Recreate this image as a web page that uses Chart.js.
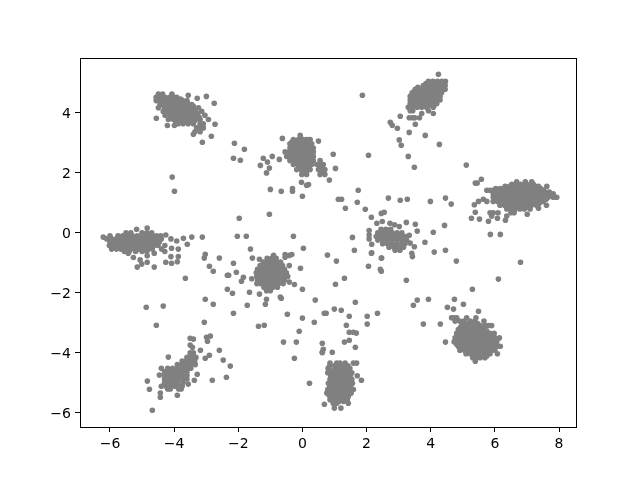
<!DOCTYPE html>
<html>
<head>
<meta charset="utf-8">
<style>
  html, body { margin: 0; padding: 0; background: #fff; }
  canvas { display: block; }
</style>
<script src="https://cdn.jsdelivr.net/npm/chart.js@4"></script>
</head>
<body>
<canvas id="chart" width="640" height="480"></canvas>
<script>
// tick labels
const xTicks = [-6, -4, -2, 0, 2, 4, 6, 8];
const yTicks = [-6, -4, -2, 0, 2, 4];

const clusterTopLeft = [
  [4.63, [-4.49, -4.36, -4.07]],
  [4.52, [-4.56, -4.42, -4.28, -4.14, -4.0, -3.92]],
  [4.46, [-4.49, -4.35, -4.21, -4.07, -3.93, -3.8]],
  [4.41, [-4.56, -4.44, -4.3, -4.16, -4.02, -3.88, -3.74, -3.6]],
  [4.34, [-4.4, -4.29, -4.15, -4.01, -3.87, -3.73, -3.59]],
  [4.28, [-4.44, -4.36, -4.22, -4.08, -3.94, -3.8, -3.66, -3.45]],
  [4.22, [-4.32, -4.21, -4.07, -3.93, -3.79, -3.65, -3.51, -3.4]],
  [4.17, [-4.49, -4.28, -4.14, -4.0, -3.86, -3.72, -3.58, -3.44, -3.24]],
  [4.11, [-4.21, -4.07, -3.93, -3.79, -3.65, -3.51, -3.37]],
  [4.05, [-4.34, -4.18, -4.04, -3.9, -3.76, -3.62, -3.48, -3.34, -3.14]],
  [3.98, [-4.11, -3.97, -3.83, -3.69, -3.55, -3.41, -3.27]],
  [3.92, [-4.28, -4.12, -3.98, -3.84, -3.7, -3.56, -3.42, -3.28, -3.04]],
  [3.85, [-4.05, -3.91, -3.77, -3.63, -3.49, -3.35, -3.22]],
  [3.78, [-4.18, -4.02, -3.88, -3.74, -3.6, -3.46, -3.32, -3.19, -2.93]],
  [3.71, [-3.95, -3.8, -3.65, -3.5, -3.38]],
  [3.64, [-3.87, -3.72, -3.56, -3.4, -3.19, -3.09]],
  [3.5, [-3.3, -3.2, -3.09]],
  [3.37, [-3.35, -3.19]]
];
const clusterTopMid = [
  [3.25, [-0.07]],
  [3.11, [-0.28, -0.12, 0.02, 0.14, 0.24]],
  [3.04, [-0.32, -0.18, -0.04, 0.1, 0.22]],
  [2.97, [-0.39, -0.25, -0.11, 0.03, 0.17, 0.29]],
  [2.9, [-0.32, -0.18, -0.04, 0.1, 0.24]],
  [2.83, [-0.39, -0.25, -0.11, 0.03, 0.17, 0.34]],
  [2.76, [-0.33, -0.19, -0.05, 0.09, 0.25]],
  [2.7, [-0.54, -0.4, -0.26, -0.12, 0.02, 0.16, 0.34]],
  [2.62, [-0.42, -0.28, -0.14, 0, 0.14, 0.28]],
  [2.55, [-0.49, -0.35, -0.21, -0.07, 0.07, 0.21, 0.34]],
  [2.48, [-0.32, -0.18, -0.04, 0.1, 0.26]],
  [2.41, [-0.39, -0.25, -0.11, 0.03, 0.17, 0.34, 0.55]],
  [2.34, [-0.21, -0.07, 0.07, 0.22]],
  [2.28, [-0.28, -0.14, 0, 0.14, 0.29, 0.45, 0.57, 0.65]],
  [2.2, [-0.11, 0.03, 0.17, 0.55]],
  [2.11, [-0.18, -0.04, 0.1, 0.24, 0.5, 0.6, 0.7]],
  [2.03, [0.03, 0.12, 0.62]],
  [1.95, [-0.02, 0.13, 0.55, 0.7]]
];
const clusterTopRight = [
  [5.05, [3.93, 4.07, 4.21, 4.35, 4.46]],
  [4.98, [3.85, 4.0, 4.14, 4.28, 4.4]],
  [4.91, [3.77, 3.91, 4.05, 4.19, 4.33, 4.45]],
  [4.85, [3.6, 3.77, 3.91, 4.05, 4.19, 4.33, 4.42]],
  [4.79, [3.52, 3.7, 3.84, 3.98, 4.12, 4.26, 4.38, 4.45]],
  [4.73, [3.49, 3.63, 3.77, 3.91, 4.05, 4.19, 4.33]],
  [4.67, [3.42, 3.56, 3.7, 3.84, 3.98, 4.12, 4.26, 4.34]],
  [4.61, [3.43, 3.57, 3.71, 3.85, 3.99, 4.13, 4.27]],
  [4.55, [3.36, 3.5, 3.64, 3.78, 3.92, 4.06, 4.2, 4.29]],
  [4.49, [3.43, 3.57, 3.71, 3.85, 3.99, 4.13, 4.25]],
  [4.43, [3.36, 3.5, 3.64, 3.78, 3.92, 4.06, 4.2, 4.29]],
  [4.37, [3.43, 3.57, 3.71, 3.85, 3.99, 4.13]],
  [4.31, [3.36, 3.5, 3.64, 3.78, 3.92, 4.06, 4.19]],
  [4.25, [3.37, 3.51, 3.65, 3.79, 3.94, 4.1]],
  [4.19, [3.3, 3.44, 3.58, 3.72, 3.87, 4.08]],
  [4.07, [3.36, 3.44, 3.93]],
  [3.98, [3.72, 4.08]],
  [3.84, [3.33, 3.43, 3.5, 3.65]]
];
const clusterRight = [
  [1.7, [6.68, 6.95, 7.15]],
  [1.62, [6.53, 6.67, 6.81, 7.0, 7.2]],
  [1.55, [6.32, 6.46, 6.6, 6.74, 6.84, 6.99, 7.13, 7.27, 7.36, 7.62]],
  [1.48, [6.03, 6.17, 6.31, 6.45, 6.59, 6.73, 6.87, 7.01, 7.15, 7.29, 7.43]],
  [1.42, [5.75, 5.85, 5.95, 6.1, 6.24, 6.38, 6.52, 6.66, 6.8, 6.94, 7.08, 7.22, 7.36, 7.51]],
  [1.36, [6.02, 6.16, 6.3, 6.44, 6.58, 6.72, 6.86, 7.0, 7.14, 7.28, 7.42, 7.56, 7.7]],
  [1.3, [5.95, 6.09, 6.23, 6.37, 6.51, 6.65, 6.79, 6.93, 7.07, 7.21, 7.35, 7.49, 7.63, 7.82]],
  [1.24, [6.02, 6.16, 6.3, 6.44, 6.58, 6.72, 6.86, 7.0, 7.14, 7.28, 7.42, 7.56, 7.72]],
  [1.19, [5.95, 6.1, 6.24, 6.38, 6.52, 6.66, 6.8, 6.94, 7.08, 7.22, 7.36, 7.5, 7.66, 7.82, 7.93]],
  [1.12, [6.03, 6.17, 6.31, 6.45, 6.59, 6.73, 6.87, 7.01, 7.15, 7.29, 7.43, 7.6]],
  [1.05, [5.95, 6.09, 6.23, 6.37, 6.51, 6.65, 6.79, 6.93, 7.07, 7.21, 7.35, 7.51]],
  [0.98, [6.23, 6.37, 6.51, 6.65, 6.79, 6.93, 7.07, 7.21, 7.38]],
  [0.92, [6.16, 6.3, 6.44, 6.58, 6.72, 6.86, 7.0, 7.14, 7.3]],
  [0.86, [6.43, 6.57, 6.71, 6.85, 6.99]],
  [0.8, [6.37, 6.5, 6.64, 6.78, 6.92, 7.1]],
  [0.67, [5.85, 5.95, 6.1, 6.5, 6.6]],
  [0.56, [5.9, 6.37]]
];
const clusterMidRight = [
  [0.12, [2.45, 2.6, 2.75]],
  [0.0, [2.35, 2.5, 2.65, 2.8, 2.95, 3.1]],
  [-0.12, [2.3, 2.45, 2.6, 2.75, 2.9, 3.05, 3.2]],
  [-0.24, [2.35, 2.5, 2.65, 2.8, 2.95, 3.1, 3.25]],
  [-0.36, [2.5, 2.65, 2.8, 2.95, 3.1, 3.2]],
  [-0.48, [2.7, 2.85, 3.0, 3.15]],
  [-0.58, [2.89, 3.04]]
];
const clusterLeft = [
  [0.0, [-5.5, -5.35, -5.0, -4.85, -4.7]],
  [-0.1, [-6.0, -5.75, -5.6, -5.45, -5.3, -5.15, -5.0, -4.85, -4.7, -4.55, -4.42]],
  [-0.2, [-6.1, -5.95, -5.8, -5.66, -5.52, -5.38, -5.24, -5.1, -4.96, -4.82, -4.68, -4.54, -4.4]],
  [-0.3, [-6.0, -5.85, -5.72, -5.58, -5.44, -5.3, -5.16, -5.02, -4.88, -4.74, -4.6, -4.46]],
  [-0.42, [-6.02, -5.88, -5.74, -5.6, -5.46, -5.32, -5.18, -5.04, -4.9, -4.76, -4.62, -4.5, -4.29]],
  [-0.54, [-5.95, -5.8, -5.66, -5.52, -5.38, -5.24, -5.1, -4.96, -4.82, -4.68, -4.39, -3.87]],
  [-0.62, [-5.55, -5.4, -5.2, -5.0, -4.85, -4.29]]
];
const clusterCenter = [
  [-0.75, [-0.9]],
  [-0.85, [-1.1, -0.96, -0.82]],
  [-0.97, [-1.22, -1.08, -0.94, -0.8, -0.68]],
  [-1.09, [-1.32, -1.18, -1.04, -0.9, -0.76, -0.62, -0.41]],
  [-1.21, [-1.4, -1.26, -1.12, -0.98, -0.84, -0.7, -0.56]],
  [-1.33, [-1.44, -1.3, -1.16, -1.02, -0.88, -0.74, -0.6, -0.5]],
  [-1.45, [-1.42, -1.28, -1.14, -1.0, -0.86, -0.72, -0.58, -0.46]],
  [-1.57, [-1.4, -1.26, -1.12, -0.98, -0.84, -0.7, -0.56]],
  [-1.69, [-1.42, -1.3, -1.16, -1.02, -0.88, -0.74, -0.6]],
  [-1.81, [-1.2, -1.06, -0.92, -0.78]],
  [-1.93, [-1.12, -1.0]]
];
const clusterLowerLeft = [
  [-4.0, [-3.5, -3.4]],
  [-4.15, [-3.6, -3.5, -3.4, -3.32]],
  [-4.27, [-3.75, -3.62, -3.48, -3.36]],
  [-4.39, [-3.9, -3.76, -3.62, -3.48, -3.34]],
  [-4.51, [-4.2, -4.05, -3.9, -3.76, -3.62, -3.48]],
  [-4.63, [-4.3, -4.15, -4.02, -3.88, -3.74, -3.6]],
  [-4.75, [-4.3, -4.16, -4.02, -3.88, -3.74, -3.6]],
  [-4.87, [-4.3, -4.16, -4.02, -3.88, -3.74, -3.6]],
  [-4.99, [-4.3, -4.16, -4.02, -3.88, -3.72]],
  [-5.11, [-4.4, -4.25, -4.1, -3.98, -3.85, -3.75]],
  [-5.2, [-4.2, -4.12, -3.86, -3.78]]
];
const clusterBottom = [
  [-4.34, [0.86, 1.07, 1.17, 1.33, 1.59, 1.69]],
  [-4.43, [0.85, 1.0, 1.14, 1.28, 1.42]],
  [-4.51, [0.8, 1.07, 1.2, 1.34, 1.48]],
  [-4.58, [0.86, 1.0, 1.14, 1.28, 1.42]],
  [-4.66, [0.79, 0.93, 1.07, 1.21, 1.35, 1.54]],
  [-4.71, [0.95, 1.09, 1.23, 1.37, 1.5]],
  [-4.76, [0.88, 1.02, 1.16, 1.3, 1.44, 1.71]],
  [-4.82, [0.93, 1.07, 1.21, 1.35, 1.49]],
  [-4.88, [0.86, 1.0, 1.14, 1.28, 1.42, 1.54]],
  [-4.95, [0.93, 1.07, 1.21, 1.35, 1.49]],
  [-5.01, [0.81, 0.95, 1.09, 1.23, 1.37, 1.56]],
  [-5.07, [0.9, 1.04, 1.18, 1.32, 1.46]],
  [-5.12, [0.85, 0.98, 1.12, 1.26, 1.4, 1.5]],
  [-5.17, [0.9, 1.04, 1.18, 1.32, 1.46]],
  [-5.22, [0.79, 0.93, 1.07, 1.21, 1.35, 1.47, 1.59]],
  [-5.28, [0.85, 1.0, 1.14, 1.28, 1.42]],
  [-5.34, [0.76, 0.9, 1.04, 1.18, 1.32, 1.52]],
  [-5.4, [0.83, 0.97, 1.11, 1.25, 1.39]],
  [-5.45, [0.86, 1.0, 1.14, 1.28, 1.43]],
  [-5.5, [0.93, 1.07, 1.21, 1.35]],
  [-5.56, [0.86, 1.0, 1.14, 1.28, 1.4]],
  [-5.62, [1.0, 1.14, 1.28]],
  [-5.68, [0.96, 1.07, 1.43]],
  [-5.84, [0.995, 1.2]]
];
const clusterLowerRight = [
  [-2.83, [4.65, 4.72, 4.81, 5.12, 5.41]],
  [-2.94, [4.76, 4.9, 5.04, 5.23, 5.38, 5.66]],
  [-3.02, [5.04, 5.18, 5.32, 5.46]],
  [-3.09, [4.97, 5.11, 5.25, 5.39, 5.54, 5.69, 5.8, 5.9]],
  [-3.15, [4.93, 5.07, 5.21, 5.35, 5.49, 5.63]],
  [-3.22, [4.86, 5.0, 5.14, 5.28, 5.42, 5.56, 5.69]],
  [-3.28, [4.93, 5.07, 5.21, 5.35, 5.49, 5.63, 5.75]],
  [-3.35, [4.81, 4.95, 5.09, 5.23, 5.37, 5.51, 5.65, 5.85, 5.98]],
  [-3.42, [4.88, 5.02, 5.16, 5.3, 5.44, 5.58, 5.72, 5.86]],
  [-3.5, [4.76, 4.9, 5.04, 5.18, 5.32, 5.46, 5.6, 5.74, 5.88, 6.0, 6.14]],
  [-3.56, [4.83, 4.97, 5.11, 5.25, 5.39, 5.53, 5.67, 5.81, 5.95]],
  [-3.63, [4.73, 4.87, 5.01, 5.15, 5.29, 5.43, 5.57, 5.71, 5.85, 6.06]],
  [-3.7, [4.8, 4.94, 5.08, 5.22, 5.36, 5.5, 5.64, 5.78, 5.92, 6.0]],
  [-3.78, [4.86, 5.0, 5.14, 5.28, 5.42, 5.56, 5.7, 5.84, 5.96, 6.06, 6.17]],
  [-3.84, [4.93, 5.07, 5.21, 5.35, 5.49, 5.63, 5.77, 5.91]],
  [-3.91, [4.91, 5.05, 5.19, 5.33, 5.47, 5.61, 5.75, 5.89, 6.0]],
  [-3.97, [5.12, 5.26, 5.4, 5.54, 5.68, 5.82]],
  [-4.03, [5.1, 5.23, 5.33, 5.47, 5.61, 5.75, 5.85, 6.08]],
  [-4.1, [5.4, 5.5, 5.62, 5.75]],
  [-4.16, [5.31, 5.43, 5.54, 5.69]],
  [-4.28, [5.39]]
];
const clusters = [clusterTopLeft, clusterTopMid, clusterTopRight, clusterRight, clusterMidRight,
  clusterLeft, clusterCenter, clusterLowerLeft, clusterBottom, clusterLowerRight];

// loose points between the clusters, [x, y]
const scatteredUpper = [
  [-4.555, 3.82], [-4.21, 3.58], [-3.99, 3.58], [-3.56, 4.59], [-3.28, 4.49], [-2.995, 4.55],
  [-2.75, 4.32], [-2.725, 3.62], [-2.84, 3.22], [-3.12, 3.02], [-3.4, 3.29], [-2.12, 2.99],
  [-1.81, 2.79], [-2.15, 2.49], [-1.935, 2.42], [-4.06, 1.86], [-3.99, 1.39], [-0.625, 3.15],
  [0.5, 3.06], [-0.94, 2.55], [-1.22, 2.49], [-1.09, 2.36], [-1.31, 2.25], [-1.03, 2.16],
  [-1.12, 2.0], [-0.72, 2.45], [-1.0, 1.45], [-0.66, 1.39], [-0.31, 1.48], [-0.31, 1.39],
  [-0.03, 1.69], [0.13, 1.59], [0.19, 1.61], [0.0, 1.22], [-1.03, 0.62], [-1.97, 0.49],
  [-2.03, -0.11], [-1.75, -0.11], [-0.28, -0.11], [0.84, 1.76], [4.24, 5.29], [1.87, 4.59],
  [3.05, 3.89], [2.74, 3.69], [2.8, 3.59], [2.96, 3.49], [3.33, 3.35], [3.52, 3.62],
  [3.83, 3.25], [3.02, 3.1], [3.08, 2.92], [4.27, 2.95], [3.3, 2.55], [3.49, 2.19],
  [2.06, 2.59], [0.96, 2.62], [1.03, 2.15], [5.11, 2.26], [5.58, 1.79], [5.39, 1.66],
  [5.45, 1.66], [1.74, 1.42], [1.12, 1.12], [1.22, 1.12], [1.71, 1.02], [1.34, 0.82],
  [1.96, 0.79], [2.15, 0.52], [2.46, 0.65], [2.55, 0.69], [2.68, 1.16], [3.05, 1.09],
  [3.27, 1.12], [3.99, 1.05], [4.46, 1.16], [4.64, 0.96], [4.43, 0.25], [4.08, 0.02],
  [3.24, 0.35], [3.52, 0.29], [3.58, 0.06], [3.33, -0.08], [1.56, -0.15], [5.86, -0.05],
  [6.17, -0.05], [5.27, 0.49], [5.52, 0.46], [5.39, 0.69], [5.36, 0.94], [5.49, 1.05],
  [5.64, 1.12], [5.75, 1.05], [7.61, 0.92], [7.36, 0.82], [7.01, 0.62],
  [6.33, 0.42], [6.08, 0.49], [5.8, 0.39], [2.32, 0.32], [2.49, 0.38], [2.73, 0.32],
  [2.87, 0.27], [3.02, 0.21], [2.08, 0.08], [2.08, -0.07], [2.08, -0.2], [2.16, -0.38],
  [-6.21, -0.14], [-5.17, 0.12], [-4.84, 0.16], [-4.26, -0.07], [-4.1, -0.2], [-3.92, -0.27],
  [-3.71, -0.18], [-3.45, -0.14], [-3.12, -0.14], [-3.59, -0.38]
];
const scatteredLower = [
  [3.82, -0.31], [3.36, -0.34], [3.49, -0.46], [3.41, -0.68], [3.43, -0.79], [2.16, -0.66],
  [2.47, -0.84], [-5.43, -0.68], [-5.27, -0.82], [-5.06, -0.9], [-5.01, -1.04], [-5.15, -1.14],
  [-4.84, -0.76], [-4.84, -0.98], [-4.62, -0.68], [-4.62, -1.14], [-4.26, -0.98], [-4.1, -0.79],
  [-4.08, -1.01], [-3.87, -0.79], [-3.9, -0.96], [-4.08, -0.51], [-1.62, -0.54], [0.03, -0.51],
  [0.78, -0.74], [-3.03, -0.71], [-3.06, -0.84], [-2.59, -0.84], [-2.15, -1.01], [-1.56, -0.84],
  [-1.34, -0.88], [-2.9, -1.11], [-2.78, -1.28], [-2.06, -1.31], [-2.34, -1.41], [-2.3, -1.41],
  [-1.84, -1.48], [-1.9, -1.61], [-3.65, -1.51], [-2.34, -1.88], [-2.18, -2.01], [-1.65, -1.98],
  [-1.34, -2.04], [-1.12, -2.21], [-1.155, -2.38], [-0.69, -2.14], [-0.66, -2.18], [0.0, -1.88],
  [-0.06, -1.18], [0.4, -2.24], [-0.47, -2.71], [0.0, -2.84], [0.37, -2.98], [0.68, -2.68],
  [0.74, -2.68], [-0.1, -3.28], [-0.59, -3.64], [-0.19, -3.64], [0.62, -3.68], [0.65, -3.88],
  [0.62, -3.98], [-0.25, -4.18], [0.22, -5.01], [-3.03, -2.21], [-2.78, -2.38], [-1.72, -2.41],
  [-2.15, -2.68], [-4.87, -2.48], [-4.34, -2.44], [-4.555, -3.08], [-3.06, -2.98], [-1.37, -3.11],
  [-1.19, -3.08], [-2.99, -3.48], [-2.87, -3.44], [-2.96, -3.61], [-3.5, -3.51], [-3.4, -3.54],
  [-3.5, -3.74], [-3.43, -3.81], [-3.18, -3.91], [-2.59, -3.91], [-3.03, -4.18], [-2.9, -4.08],
  [-2.47, -4.24], [-2.25, -4.44], [-2.37, -4.81], [-2.81, -4.91], [-4.18, -4.14], [-4.4, -4.51],
  [-4.46, -4.74], [-4.835, -4.94], [-4.77, -5.21], [-4.43, -5.34], [-4.43, -5.48], [-3.9, -5.41],
  [-4.68, -5.91], [-3.28, -4.71], [-3.37, -4.91], [-3.56, -5.04], [0.685, -5.71], [-0.54, -0.72],
  [-0.33, -0.72], [-0.54, -0.81], [-0.41, -0.75], [-0.41, -1.64], [-0.25, -1.72], [-1.58, -1.53],
  [1.62, -0.58], [2.15, -0.68], [1.06, -0.94], [2.46, -0.84], [2.06, -1.11], [2.43, -1.21],
  [2.46, -1.28], [1.31, -1.51], [1.03, -1.71], [3.24, -1.58], [4.11, -0.64], [4.46, -0.58],
  [4.8, -0.94], [6.8, -0.98], [6.11, -1.54], [5.3, -1.88], [4.74, -2.21], [5.02, -2.38],
  [4.52, -2.48], [4.71, -2.54], [3.93, -2.21], [3.58, -2.24], [3.46, -2.41], [5.49, -2.61],
  [1.65, -2.31], [0.995, -2.54], [1.21, -2.58], [1.46, -2.78], [2.34, -2.68], [2.02, -2.78],
  [2.02, -3.04], [1.37, -3.08], [1.46, -3.31], [1.59, -3.31], [1.68, -3.34], [1.31, -3.64],
  [1.46, -3.58], [1.65, -3.81], [0.93, -3.98], [3.77, -3.04], [4.3, -3.04], [4.46, -3.64],
  [1.84, -4.91], [0.62, -3.99]
];

const points = [];
clusters.forEach(rows => rows.forEach(([y, xs]) => xs.forEach(x => points.push({ x, y }))));
scatteredUpper.concat(scatteredLower).forEach(([x, y]) => points.push({ x, y }));

// caja completa alrededor del area de dibujo
const frame = {
  id: 'frame',
  afterDatasetsDraw(chart) {
    const { ctx, chartArea: a } = chart;
    ctx.save();
    ctx.strokeStyle = '#000';
    ctx.lineWidth = 1;
    ctx.strokeRect(Math.round(a.left) + 0.5, Math.round(a.top) + 0.5,
      Math.round(a.right - a.left), Math.round(a.bottom - a.top));
    ctx.restore();
  }
};

function tickLabel(value) {
  return value < 0 ? '\u2212' + Math.abs(value) : String(value);
}

function axis(min, max, values, size) {
  return {
    type: 'linear',
    min,
    max,
    afterBuildTicks(scale) { scale.ticks = values.map(value => ({ value })); },
    afterFit: size,
    border: { color: '#000', width: 1 },
    grid: { drawOnChartArea: false, color: '#000', tickLength: 5, tickWidth: 1 },
    ticks: {
      color: '#000',
      padding: 4,
      maxRotation: 0,
      autoSkip: false,
      font: { family: 'DejaVu Sans', size: 14 },
      callback: tickLabel
    }
  };
}

const yAxis = axis(-6.47, 5.83, yTicks, scale => { scale.width = 80; });
// linea vacia delante de la etiqueta: baja el texto poco mas de 1 px, como en la referencia
yAxis.ticks.font.lineHeight = 0.2;
yAxis.ticks.callback = value => ['', tickLabel(value)];

new Chart(document.getElementById('chart'), {
  type: 'scatter',
  data: {
    datasets: [{
      data: points,
      backgroundColor: 'gray',
      borderWidth: 0,
      pointRadius: 2.8,
      pointHoverRadius: 2.8
    }]
  },
  options: {
    responsive: false,
    animation: false,
    layout: { padding: { top: 58, right: 64, bottom: 0, left: 0 } },
    plugins: { legend: { display: false }, tooltip: { enabled: false } },
    scales: {
      x: axis(-6.935, 8.53, xTicks, scale => { scale.height = 53; }),
      y: yAxis
    }
  },
  plugins: [frame]
});
</script>
</body>
</html>
